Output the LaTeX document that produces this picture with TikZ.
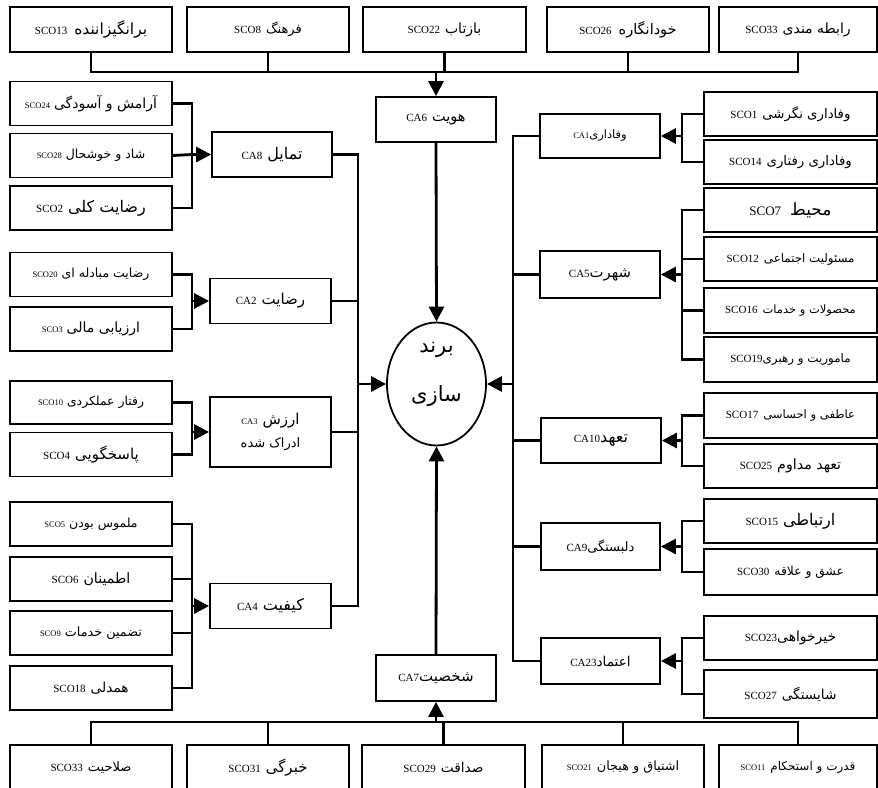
\documentclass[tikz,border=0pt]{standalone}
\usepackage{fontspec}
\setmainfont{Liberation Serif}
\newfontfamily\arabicfont[Script=Arabic]{DejaVu Sans}
\TeXXeTstate=1
\usetikzlibrary{arrows.meta,shapes.geometric}
\newcommand{\fa}[2][13]{{\fontsize{#1}{#1}\selectfont\arabicfont\beginR #2\endR}}
\newcommand{\sm}[1]{{\fontsize{8.5}{9}\selectfont #1}}
\begin{document}
\begin{tikzpicture}[x=1pt,y=-1pt,
 box/.style={draw, line width=1.8pt, inner sep=0pt, align=center, font=\fontsize{11}{12}\selectfont},
 lbox/.style={box, minimum width=162pt, minimum height=44pt},
 rbox/.style={box, minimum width=173pt, minimum height=44pt},
 tbox/.style={box, minimum width=162pt, minimum height=45pt},
 cabox/.style={box, minimum width=120pt, minimum height=45pt},
 conn/.style={line width=2.8pt},
 arr/.style={conn, -{Triangle[length=15pt,width=15pt]}}]
\useasboundingbox (0,0) rectangle (878,787);
\clip (0,0) rectangle (878,787);
\fill[white] (0,0) rectangle (878,787);

% top row
\node[tbox] (t1) at (91,29.5) {SCO13\hspace{7pt}\fa[15.5]{برانگیزاننده}};
\node[tbox] (t2) at (268,29.5) {SCO8\hspace{5pt}\fa[13]{فرهنگ}};
\node[tbox, minimum width=163pt] (t3) at (444.5,29.5) {SCO22\hspace{5pt}\fa[14]{بازتاب}};
\node[tbox] (t4) at (628,29.5) {SCO26\hspace{7pt}\fa[14.5]{خودانگاره}};
\node[tbox, minimum width=158pt] (t5) at (798,29.5) {SCO33\hspace{5pt}\fa[14]{رابطه مندی}};

% center
\node[cabox] (ca6) at (436,119.5) {CA6\hspace{5pt}\fa[14.5]{هویت}};
\node[draw, line width=1.8pt, ellipse, minimum width=99pt, minimum height=123pt, inner sep=0pt] (brand) at (436.5,384) {};
\node[align=center, inner sep=0pt, font=\fontsize{21}{49}\selectfont] (brandtxt) at (436.5,374) {\fa[21]{برند}\\\fa[21]{سازی}};
\node[cabox, minimum height=46pt] (ca7) at (436,678) {CA7\fa[15]{شخصیت}};

% bottom row
\node[tbox] (b1) at (91,767.5) {SCO33\hspace{5pt}\fa[13]{صلاحیت}};
\node[tbox] (b2) at (268,767.5) {SCO31\hspace{5pt}\fa[15]{خبرگی}};
\node[tbox, minimum width=163pt] (b3) at (443.5,767.5) {SCO29\hspace{5pt}\fa[13.7]{صداقت}};
\node[tbox] (b4) at (623,767.5) {\sm{SCO21}\hspace{5pt}\fa[12.8]{اشتیاق و هیجان}};
\node[tbox, minimum width=158pt] (b5) at (798,767.5) {\sm{SCO11}\hspace{5pt}\fa[12]{قدرت و استحکام}};

% left CA boxes
\node[cabox] (ca8) at (272,154.5) {CA8\hspace{5pt}\fa[16]{تمایل}};
\node[cabox, minimum width=121pt] (ca2) at (270.5,301) {CA2\hspace{5pt}\fa[15]{رضایت}};
\node[cabox, minimum width=121pt, minimum height=70pt] (ca3) at (270.5,432) {\sm{CA3}\hspace{5pt}\fa[15]{ارزش}\\[9pt]\fa[13]{ادراک شده}};
\node[cabox, minimum width=121pt] (ca4) at (270.5,606) {CA4\hspace{5pt}\fa[16]{کیفیت}};

% left SCO boxes
\node[lbox] (l1) at (91,103.5) {\sm{SCO24}\hspace{4pt}\fa[14]{آرامش و آسودگی}};
\node[lbox] (l2) at (91,155.5) {\sm{SCO28}\hspace{4pt}\fa[12.5]{شاد و خوشحال}};
\node[lbox] (l3) at (91,208) {SCO2\hspace{5pt}\fa[16]{رضایت کلی}};
\node[lbox] (l4) at (91,274.5) {\sm{SCO20}\hspace{4pt}\fa[12.5]{رضایت مبادله ای}};
\node[lbox] (l5) at (91,329) {\sm{SCO3}\hspace{4pt}\fa[14]{ارزیابی مالی}};
\node[lbox, minimum height=43pt] (l6) at (91,402.5) {\sm{SCO10}\hspace{4pt}\fa[12.4]{رفتار عملکردی}};
\node[lbox] (l7) at (91,454.5) {SCO4\hspace{5pt}\fa[15]{پاسخگویی}};
\node[lbox] (l8) at (91,524) {\sm{SCO5}\hspace{4pt}\fa[12.5]{ملموس بودن}};
\node[lbox] (l9) at (91,579) {SCO6\hspace{5pt}\fa[14.2]{اطمینان}};
\node[lbox] (l10) at (91,633) {\sm{SCO9}\hspace{4pt}\fa[12.8]{تضمین خدمات}};
\node[lbox] (l11) at (91,688) {SCO18\hspace{5pt}\fa[13.7]{همدلی}};

% right CA boxes
\node[cabox, minimum height=44pt] (ca1) at (600,136) {\sm{CA1}\fa[11.5]{وفاداری}};
\node[cabox, minimum height=47pt] (ca5) at (600,274.5) {CA5\fa[14.8]{شهرت}};
\node[cabox] (ca10) at (601,440.5) {CA10\fa[16]{تعهد}};
\node[cabox, minimum width=119pt, minimum height=47pt] (ca9) at (600.5,546.5) {CA9\fa[13]{دلبستگی}};
\node[cabox, minimum width=119pt, minimum height=46pt] (ca23) at (600.5,661) {CA23\fa[13.6]{اعتماد}};

% right SCO boxes
\node[rbox] (r1) at (790.5,114) {SCO1\hspace{5pt}\fa[13.3]{وفاداری نگرشی}};
\node[rbox] (r2) at (790.5,162) {SCO14\hspace{5pt}\fa[13.3]{وفاداری رفتاری}};
\node[rbox] (r3) at (790.5,210) {{\fontsize{13}{14}\selectfont SCO7}\hspace{9pt}\fa[17]{محیط}};
\node[rbox] (r4) at (790.5,259) {SCO12\hspace{5pt}\fa[11.8]{مسئولیت اجتماعی}};
\node[rbox, minimum height=45pt] (r5) at (790.5,310.5) {SCO16\hspace{5pt}\fa[11.5]{محصولات و خدمات}};
\node[rbox, minimum height=45pt] (r6) at (790.5,359.5) {SCO19\fa[11.9]{ماموریت و رهبری}};
\node[rbox, minimum height=45pt] (r7) at (790.5,415.5) {SCO17\hspace{5pt}\fa[11.6]{عاطفی و احساسی}};
\node[rbox] (r8) at (790.5,466) {SCO25\hspace{5pt}\fa[14.2]{تعهد مداوم}};
\node[rbox] (r9) at (790.5,521) {SCO15\hspace{5pt}\fa[16]{ارتباطی}};
\node[rbox, minimum height=46pt] (r10) at (790.5,572) {SCO30\hspace{5pt}\fa[12.3]{عشق و علاقه}};
\node[rbox] (r11) at (790.5,638) {SCO23\fa[13.9]{خیرخواهی}};
\node[rbox, minimum height=48pt] (r12) at (790.5,694) {SCO27\hspace{5pt}\fa[13.7]{شایستگی}};

% coordinates
\coordinate (busT) at (436,72);
\coordinate (busB) at (436,722);
\coordinate (busL) at (358,384);
\coordinate (busR) at (513,384);
\coordinate (k8) at (192,154.5);
\coordinate (k2) at (192,301);
\coordinate (k3) at (192,432);
\coordinate (k4) at (192,606);
\coordinate (k1) at (682,136);
\coordinate (k5) at (682,274.5);
\coordinate (k10) at (682,440.5);
\coordinate (k9) at (682,546.5);
\coordinate (k23) at (682,661);

% top bus
\draw[conn] (t1.south) |- (busT) -| (t5.south);
\draw[conn] (t2.south) -- (t2.south |- busT);
\draw[conn] (t3.south) -- (t3.south |- busT);
\draw[conn] (t4.south) -- (t4.south |- busT);
\draw[arr] (busT) -- (ca6.north);
\draw[arr] (ca6.south) -- (brand.north);

% bottom bus
\draw[conn] (b1.north) |- (busB) -| (b5.north);
\draw[conn] (b2.north) -- (b2.north |- busB);
\draw[conn] (b3.north) -- (b3.north |- busB);
\draw[conn] (b4.north) -- (b4.north |- busB);
\draw[arr] (busB) -- (ca7.south);
\draw[arr] (ca7.north) -- (brand.south);

% left bus
\draw[conn] (ca8.east) -| (busL) |- (ca4.east);
\draw[conn] (ca2.east) -- (ca2.east -| busL);
\draw[conn] (ca3.east) -- (ca3.east -| busL);
\draw[arr] (busL) -- (brand.west);

% right bus
\draw[conn] (ca1.west) -| (busR) |- (ca23.west);
\draw[conn] (ca5.west) -- (ca5.west -| busR);
\draw[conn] (ca10.west) -- (ca10.west -| busR);
\draw[conn] (ca9.west) -- (ca9.west -| busR);
\draw[arr] (busR) -- (brand.east);

% left brackets
\draw[conn] (l1.east) -| (k8) |- (l3.east);
\draw[conn] (l2.east) -- (k8);
\draw[arr] (k8) -- (ca8.west);
\draw[conn] (l4.east) -| (k2) |- (l5.east);
\draw[arr] (k2) -- (ca2.west);
\draw[conn] (l6.east) -| (k3) |- (l7.east);
\draw[arr] (k3) -- (ca3.west);
\draw[conn] (l8.east) -| (k4) |- (l11.east);
\draw[conn] (l9.east) -- (l9.east -| k4);
\draw[conn] (l10.east) -- (l10.east -| k4);
\draw[arr] (k4) -- (ca4.west);

% right brackets
\draw[conn] (r1.west) -| (k1) |- (r2.west);
\draw[arr] (k1) -- (ca1.east);
\draw[conn] (r3.west) -| (k5) |- (r6.west);
\draw[conn] (r4.west) -- (r4.west -| k5);
\draw[conn] (r5.west) -- (r5.west -| k5);
\draw[arr] (k5) -- (ca5.east);
\draw[conn] (r7.west) -| (k10) |- (r8.west);
\draw[arr] (k10) -- (ca10.east);
\draw[conn] (r9.west) -| (k9) |- (r10.west);
\draw[arr] (k9) -- (ca9.east);
\draw[conn] (r11.west) -| (k23) |- (r12.west);
\draw[arr] (k23) -- (ca23.east);
\end{tikzpicture}
\end{document}
